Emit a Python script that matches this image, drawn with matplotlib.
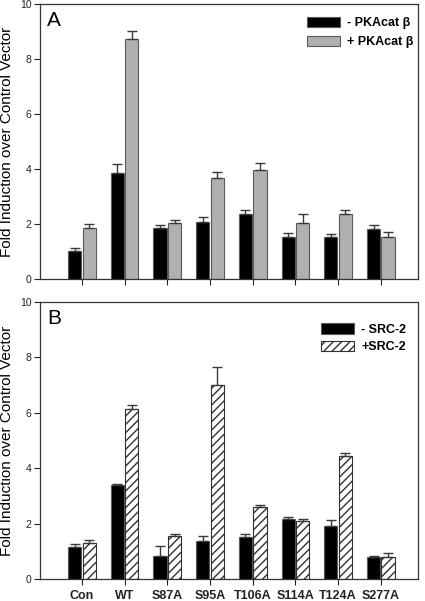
import matplotlib
matplotlib.use('Agg')
import matplotlib.pyplot as plt
import numpy as np

plt.rcParams['font.family'] = ['Liberation Sans', 'DejaVu Sans']

# mutants on the x axis
groups = ['Con', 'WT', 'S87A', 'S95A', 'T106A', 'S114A', 'T124A', 'S277A']

# panel A: - / + PKAcat beta (means and upper error)
pka_minus = [1.03, 3.86, 1.84, 2.08, 2.37, 1.53, 1.53, 1.81]
pka_minus_err = [0.09, 0.31, 0.12, 0.17, 0.14, 0.16, 0.11, 0.15]
pka_plus = [1.84, 8.72, 2.04, 3.68, 3.96, 2.04, 2.36, 1.51]
pka_plus_err = [0.15, 0.30, 0.12, 0.20, 0.24, 0.32, 0.16, 0.19]

# panel B: - / + SRC-2
src_minus = [1.16, 3.39, 0.82, 1.38, 1.52, 2.18, 1.93, 0.78]
src_minus_err = [0.12, 0.04, 0.36, 0.16, 0.10, 0.05, 0.20, 0.04]
src_plus = [1.30, 6.14, 1.56, 7.00, 2.61, 2.09, 4.44, 0.81]
src_plus_err = [0.12, 0.14, 0.06, 0.65, 0.05, 0.08, 0.11, 0.14]

x = np.arange(len(groups))
w = 0.31
off = 0.17
edge = '#5a5a5a'
ekw = dict(ecolor='#3a3a3a', elinewidth=1, capsize=3.5, capthick=1)

fig = plt.figure(figsize=(4.25, 6.01), dpi=100)
ax1 = fig.add_axes([0.094, 0.5358, 0.889, 0.4576])
ax2 = fig.add_axes([0.094, 0.0366, 0.889, 0.461])

ax1.bar(x - off, pka_minus, w, color='black', edgecolor=edge, linewidth=0.8,
        yerr=[np.zeros(8), pka_minus_err], error_kw=ekw, label='- PKAcat \u03b2')
ax1.bar(x + off, pka_plus, w, color='#b0b0b0', edgecolor=edge, linewidth=0.8,
        yerr=[np.zeros(8), pka_plus_err], error_kw=ekw, label='+ PKAcat \u03b2')

ax2.bar(x - off, src_minus, w, color='black', edgecolor=edge, linewidth=0.8,
        yerr=[np.zeros(8), src_minus_err], error_kw=ekw, label='- SRC-2')
ax2.bar(x + off, src_plus, w, color='white', edgecolor='#303030', linewidth=0.8,
        hatch='////', yerr=[np.zeros(8), src_plus_err], error_kw=ekw, label='+SRC-2')

legend_anchor = {ax1: (1.012, 0.985), ax2: (0.993, 0.955)}
legend_spacing = {ax1: 0.5, ax2: 0.4}
for ax, letter in [(ax1, 'A'), (ax2, 'B')]:
    ax.set_xlim(-0.983, 7.866)
    ax.set_ylim(0, 10)
    ax.set_yticks([0, 2, 4, 6, 8, 10])
    ax.set_xticks(x)
    ax.tick_params(direction='out', length=4, width=0.8, pad=2, labelsize=7.5, colors='#222222')
    ax.tick_params(axis='x', labelsize=9, pad=4)
    for s in ax.spines.values():
        s.set_linewidth(0.9)
        s.set_color('#333333')
    ax.set_ylabel('Fold Induction over Control Vector', fontsize=11, va='center')
    ax.yaxis.set_label_coords(-0.087, 0.5)
    ax.text(0.018, 0.975, letter, transform=ax.transAxes, fontsize=15, va='top', ha='left')
    ax.legend(loc='upper right', bbox_to_anchor=legend_anchor[ax], frameon=False,
              prop={'weight': 'bold', 'size': 9},
              handlelength=2.6, handleheight=0.9, borderaxespad=0.3,
              labelspacing=legend_spacing[ax], handletextpad=0.6)

ax1.set_xticklabels([])
ax2.set_xticklabels(groups, fontweight='bold')

fig.savefig('out.png', dpi=100)
